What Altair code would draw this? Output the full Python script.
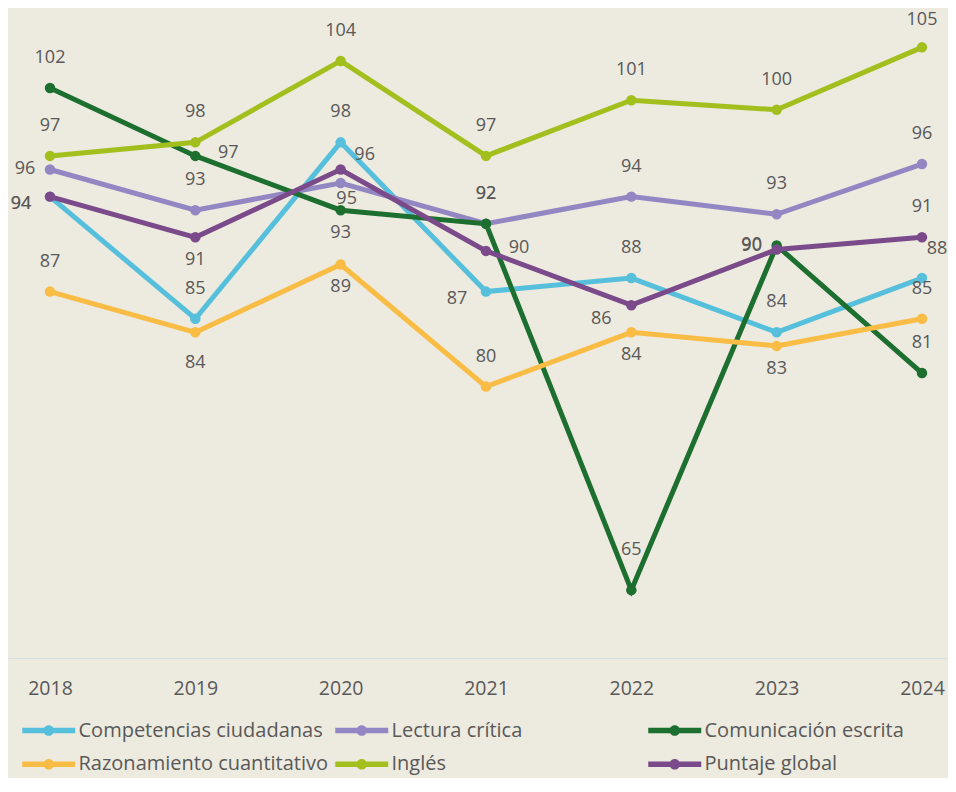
import altair as alt
import pandas as pd

years = [2018, 2019, 2020, 2021, 2022, 2023, 2024]
series = ["Competencias ciudadanas", "Lectura crítica", "Comunicación escrita",
          "Razonamiento cuantitativo", "Inglés", "Puntaje global"]
colors = ["#56C0DC", "#9387C3", "#1D6F30", "#F9BC45", "#A2BF1E", "#7A4A8A"]

competencias = [94, 85, 98, 87, 88, 84, 88]
lectura = [96, 93, 95, 92, 94, 92.7, 96.4]
comunicacion = [102, 97, 93, 92, 65, 90.4, 81]
razonamiento = [87, 84, 89, 80, 84, 83, 85]
ingles = [97, 98, 104, 97, 101.1, 100.4, 105]
puntaje = [94, 91, 96, 90, 86, 90.1, 91]

# label placement code per point (style only)
pos_competencias = ["lb", "t", "t", "lb", "t", "t", "tr2"]
pos_lectura = ["l", "t", "br", "t", "t", "t", "t"]
pos_comunicacion = ["t", "r", "b", "t", "t2", "l", "t"]
pos_razonamiento = ["t", "b2", "b", "t", "b", "b", "t"]
pos_ingles = ["t", "t", "t", "t", "t", "t", "t3"]
pos_puntaje = ["lb", "b", "tr", "r", "bl", "l3", "t"]

offsets = {"t": (0, -30), "t2": (0, -40), "t3": (0, -27), "b": (0, 23), "b2": (0, 31),
           "l": (-25, 0), "l3": (-25, -4), "lb": (-29, 7), "r": (33, -3),
           "tr": (24, -14), "tr2": (15, -29), "br": (6, 16), "bl": (-30, 14)}

rows = []
for name, vals, poss in zip(series,
                            [competencias, lectura, comunicacion, razonamiento, ingles, puntaje],
                            [pos_competencias, pos_lectura, pos_comunicacion, pos_razonamiento, pos_ingles, pos_puntaje]):
    for yr, v, p in zip(years, vals, poss):
        rows.append({"serie": name, "year": yr, "value": v, "pos": p})
df = pd.DataFrame(rows)

FONT = "Open Sans"
TXT = "#595959"
SYMBOL = ("M-2,-0.2L2,-0.2L2,0.2L-2,0.2Z "
          "M0.4,0A0.4,0.4 0 1,1 -0.4,0A0.4,0.4 0 1,1 0.4,0Z")

legend = alt.Legend(
    title=None, orient="none", direction="horizontal", legendX=27.25, legendY=708.75,
    columns=3, gridAlign="all", columnPadding=7, rowPadding=10, padding=0,
    symbolType=SYMBOL, symbolSize=702, symbolStrokeWidth=0, symbolOpacity=1,
    labelFont=FONT, labelFontSize=20, labelColor=TXT, labelOffset=16.25, labelLimit=500,
)
color = alt.Color("serie:N", scale=alt.Scale(domain=series, range=colors), legend=legend)
x = alt.X("year:Q", scale=alt.Scale(domain=[2017.711, 2024.179], nice=False, zero=False),
          axis=alt.Axis(values=years, format="d", grid=False, ticks=False, tickSize=0,
                        domainColor="#D6DEE2", domainWidth=1, labelFont=FONT,
                        labelFontSize=19.5, labelColor=TXT, labelPadding=21, title=None,
                        labelFlush=False))
y = alt.Y("value:Q", scale=alt.Scale(domain=[60, 107.9], nice=False, zero=False), axis=None)

base = alt.Chart(df)
lines = base.mark_line(strokeWidth=5).encode(x=x, y=y, color=color, detail="serie:N")
points = base.mark_circle(size=110, opacity=1).encode(x=x, y=y, color=color)

texts = []
for k, (dx, dy) in offsets.items():
    texts.append(
        base.transform_filter(alt.datum.pos == k)
        .mark_text(dx=dx, dy=dy, font=FONT, fontSize=18, color=TXT, baseline="middle")
        .encode(x=x, y=y, text=alt.Text("value:Q", format=".0f"))
    )

chart = alt.layer(lines, points, *texts).properties(
    width=940, height=650, background="#EDEADF",
    padding={"left": 0, "top": 0, "right": 0, "bottom": 120},
    autosize=alt.AutoSizeParams(type="none"),
).configure_view(stroke=None)

chart.save("out.html", embed_options={"renderer": "svg", "actions": False})
